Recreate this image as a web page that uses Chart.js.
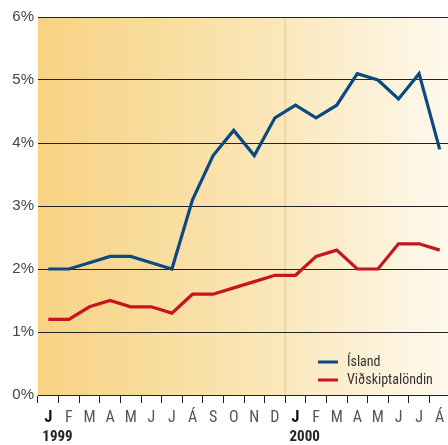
<!DOCTYPE html>
<html>
<head>
<meta charset="utf-8">
<script src="https://cdn.jsdelivr.net/npm/chart.js@4"></script>
<style>
html,body{margin:0;padding:0;background:#fff;overflow:hidden;}
#wrap{width:452px;height:445px;}
</style>
</head>
<body>
<div id="wrap"><canvas id="c" width="452" height="445"></canvas></div>
<script>
const months = ['J','F','M','A','M','J','J','Á','S','O','N','D','J','F','M','A','M','J','J','Á'];
const years = ['1999','2000'];
const yTicks = [0,1,2,3,4,5,6];
const island = [2.0,2.0,2.1,2.2,2.2,2.1,2.0,3.1,3.8,4.2,3.8,4.4,4.6,4.4,4.6,5.1,5.0,4.7,5.1,3.9];
const vidskipta = [1.2,1.2,1.4,1.5,1.4,1.4,1.3,1.6,1.6,1.7,1.8,1.9,1.9,2.2,2.3,2.0,2.0,2.4,2.4,2.3];

const NARROW = "'Roboto Condensed','DejaVu Sans Condensed',sans-serif";

const bgPlugin = {
  id:'bg',
  beforeDraw(chart){
    const {ctx, chartArea:a} = chart;
    const g = ctx.createLinearGradient(a.left,0,a.right,0);
    g.addColorStop(0,'#F7D282');
    g.addColorStop(0.55,'#FAE6B6');
    g.addColorStop(1,'#FEF9EE');
    ctx.save();
    ctx.fillStyle = g;
    ctx.fillRect(a.left,a.top,a.right-a.left,a.bottom-a.top);
    const x = chart.scales.x;
    const sx = (x.getPixelForValue(11)+x.getPixelForValue(12))/2;
    ctx.strokeStyle = '#F3D48C';
    ctx.lineWidth = 1.5;
    ctx.beginPath();
    ctx.moveTo(sx,a.top);
    ctx.lineTo(sx,a.bottom);
    ctx.stroke();
    ctx.restore();
  }
};

const extraPlugin = {
  id:'extra',
  afterDraw(chart){
    const {ctx} = chart;
    const x = chart.scales.x;
    ctx.save();
    ctx.font = "bold 15px " + NARROW;
    ctx.fillStyle = '#222';
    ctx.textBaseline = 'middle';
    ctx.textAlign = 'left';
    years.forEach((y,i)=>{
      const px = x.getPixelForValue(i*12);
      ctx.fillText(y, px-6, 437);
    });
    ctx.font = "14px " + NARROW;
    chart.data.datasets.forEach((ds,i)=>{
      const yy = 362 + i*18;
      ctx.strokeStyle = ds.borderColor;
      ctx.lineWidth = 3;
      ctx.beginPath();
      ctx.moveTo(318,yy);
      ctx.lineTo(338,yy);
      ctx.stroke();
      ctx.fillStyle = '#333';
      ctx.fillText(ds.label, 347, yy);
    });
    ctx.restore();
  }
};

new Chart(document.getElementById('c'), {
  type:'line',
  data:{
    labels: months,
    datasets:[
      {label:'Ísland', data: island, borderColor:'#0A4A80', borderWidth:3.2, pointRadius:0, tension:0, fill:false},
      {label:'Viðskiptalöndin', data: vidskipta, borderColor:'#C8141E', borderWidth:3.2, pointRadius:0, tension:0, fill:false}
    ]
  },
  options:{
    responsive:false,
    animation:false,
    layout:{padding:{top:17,right:2,bottom:0,left:0}},
    plugins:{legend:{display:false}, tooltip:{enabled:false}},
    scales:{
      x:{
        offset:true,
        grid:{display:true, offset:true, drawOnChartArea:false, drawTicks:true, tickLength:8, color:'#222', lineWidth:1},
        border:{display:true, color:'#222', width:1},
        ticks:{
          autoSkip:false, maxRotation:0, padding:5,
          color: c => (c.index%12===0 ? '#111' : '#555'),
          font: c => (c.index%12===0 ? {family:NARROW, size:16, weight:'bold'} : {family:NARROW, size:16})
        },
        afterFit(s){ s.height = 50; }
      },
      y:{
        min:0, max:6,
        afterBuildTicks(s){ s.ticks = yTicks.map(v=>({value:v})); },
        grid:{color:'#222', lineWidth:1, drawTicks:false},
        border:{display:false},
        ticks:{padding:4, color:'#444', font:{family:"'Liberation Sans','Arial',sans-serif", size:15}, callback:v=>v+'%'},
        afterFit(s){ s.width = 38; }
      }
    }
  },
  plugins:[bgPlugin, extraPlugin]
});
</script>
</body>
</html>
